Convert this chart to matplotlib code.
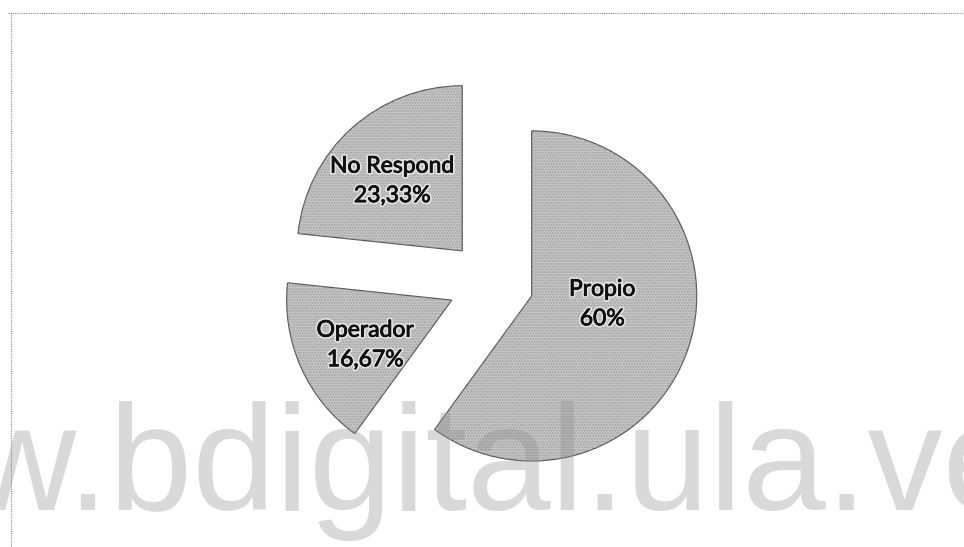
import matplotlib
matplotlib.use("Agg")
import matplotlib.pyplot as plt
import matplotlib.patheffects as pe
from matplotlib.lines import Line2D
import numpy as np

# ---- data ----
categories = ["Propio", "Operador", "No Respond"]
values = [60.0, 16.67, 23.33]
pct_labels = ["60%", "16,67%", "23,33%"]
watermark = "w.bdigital.ula.ve"

# ---- layout / style ----
W, H, DPI = 964, 547, 100
R_PX = 165.0                      # pie radius in pixels
CX, CY = 490.9, 282.7             # pie centre (pixels from left/top)
explode_frac = 0.26
label_polar = [(0.43, -6.5), (0.59, 207.4), (0.60, 135.0)]  # (r fraction, angle deg) from wedge apex

fig = plt.figure(figsize=(W / DPI, H / DPI), dpi=DPI)
fig.patch.set_facecolor("white")
ax = fig.add_axes([0, 0, 1, 1])

wedges, _ = ax.pie(values, startangle=90, counterclock=False,
                   explode=[explode_frac] * len(values), radius=1.0,
                   wedgeprops=dict(facecolor="#c8c8c8", edgecolor="#555555",
                                   linewidth=0.9))
# scanned-texture overlay
ax.pie(values, startangle=90, counterclock=False,
       explode=[explode_frac] * len(values), radius=1.0,
       wedgeprops=dict(facecolor="none", edgecolor="#a0a0a0",
                       linewidth=0, hatch="......"))

ax.set_aspect("auto")
ax.set_xlim(-CX / R_PX, (W - CX) / R_PX)
ax.set_ylim(-(H - CY) / R_PX, CY / R_PX)
ax.axis("off")

for w, cat, pct, (rf, ang) in zip(wedges, categories, pct_labels, label_polar):
    cx, cy = w.center
    a = np.deg2rad(ang)
    ax.text(cx + rf * np.cos(a), cy + rf * np.sin(a), f"{cat}\n{pct}",
            ha="center", va="center", fontsize=16.5, family=["Lato", "DejaVu Sans"],
            color="#111111", linespacing=1.5, zorder=5,
            path_effects=[pe.withStroke(linewidth=3, foreground="white", alpha=0.6),
                          pe.withStroke(linewidth=0.6, foreground="#111111")])

# scanned frame border (top and left)
fig.add_artist(Line2D([8 / W, 1], [1 - 13 / H, 1 - 13 / H], transform=fig.transFigure,
                      color="#8a8a8a", linestyle=(0, (1, 1)), linewidth=0.8))
fig.add_artist(Line2D([11 / W, 11 / W], [0, 1 - 13 / H], transform=fig.transFigure,
                      color="#8a8a8a", linestyle=(0, (1, 1)), linewidth=0.8))

# watermark
fig.text(-33 / W, (H - 510) / H, watermark, ha="left", va="baseline",
         fontsize=108, family="Liberation Sans", color="#8c8c8c", alpha=0.33,
         zorder=10)

fig.savefig("out.png", dpi=DPI, facecolor="white")
